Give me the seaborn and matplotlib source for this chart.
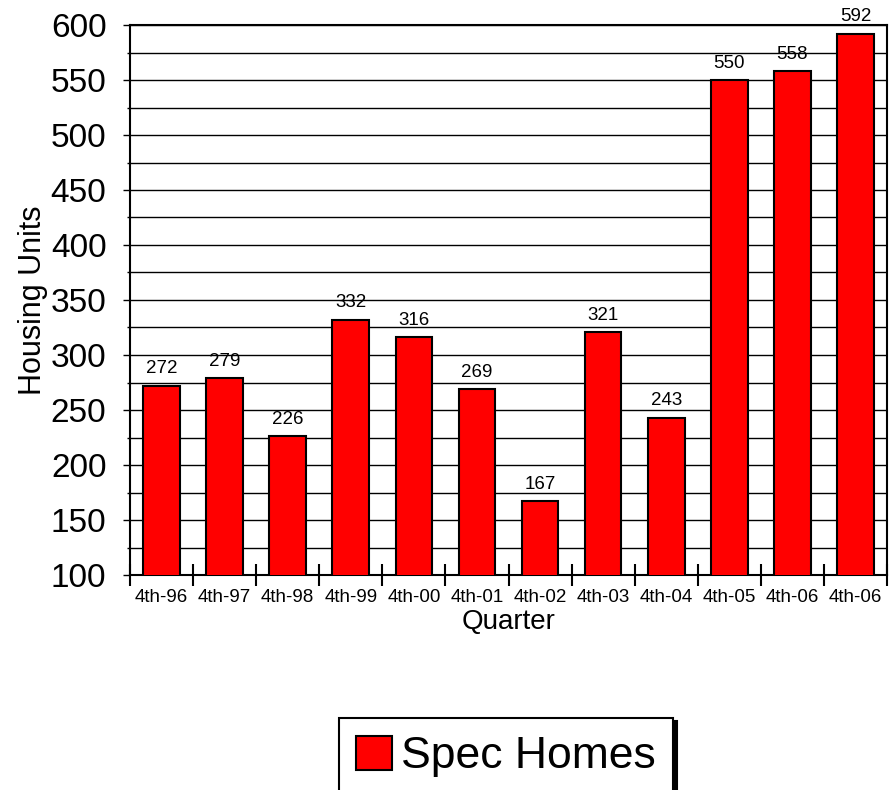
import matplotlib
matplotlib.use("Agg")
import matplotlib.pyplot as plt
import seaborn as sns
import pandas as pd
import numpy as np
from matplotlib.patches import Patch

quarters = ["4th-96", "4th-97", "4th-98", "4th-99", "4th-00", "4th-01",
            "4th-02", "4th-03", "4th-04", "4th-05", "4th-06", "4th-06"]
spec_homes = [272, 279, 226, 332, 316, 269, 167, 321, 243, 550, 558, 592]
series_name = "Spec Homes"

sns.set_style("white")
plt.rcParams['font.family'] = ['Liberation Sans', 'DejaVu Sans']
plt.rcParams['text.color'] = 'black'
plt.rcParams['axes.labelcolor'] = 'black'
plt.rcParams['xtick.color'] = 'black'
plt.rcParams['ytick.color'] = 'black'

df = pd.DataFrame({"pos": list(range(len(quarters))), "value": spec_homes})

fig = plt.figure(figsize=(8.9, 7.9), dpi=100)
ax = fig.add_axes([130/890, 1-575/790, (887-130)/890, (575-25)/790])

sns.barplot(data=df, x="pos", y="value", ax=ax, color="#FF0000",
            width=0.58, edgecolor="black", linewidth=1.5, saturation=1,
            zorder=3)

ax.set_ylim(100, 600)
ax.set_xlim(-0.5, len(quarters) - 0.5)
ax.set_yticks(np.arange(100, 601, 50))
ax.set_yticks(np.arange(125, 600, 50), minor=True)
ax.grid(True, axis="y", which="both", color="black", linewidth=1.0, zorder=0)
ax.set_axisbelow(True)

ax.tick_params(axis="y", which="major", direction="out", length=5, width=1,
               labelsize=24, pad=12, left=True, colors="black")
ax.tick_params(axis="y", which="minor", direction="out", length=2, width=1,
               left=True)

# x ticks: major at boundaries (inout), labels at centers via minor ticks
ax.set_xticks(np.arange(-0.5, len(quarters), 1.0))
ax.set_xticklabels([])
ax.set_xticks(np.arange(len(quarters)), minor=True)
ax.set_xticklabels(quarters, minor=True)
ax.tick_params(axis="x", which="major", direction="inout", length=16, width=1.5,
               bottom=True, colors="black")
ax.tick_params(axis="x", which="minor", length=0, labelsize=13.5, pad=10,
               colors="black")

for s in ax.spines.values():
    s.set_color("black")
    s.set_linewidth(1.5)

ax.set_xlabel("Quarter", fontsize=20, labelpad=2, color="black")
ax.set_ylabel("Housing Units", fontsize=22, labelpad=2, color="black")

for p, v in zip(ax.patches, spec_homes):
    ax.annotate(f"{v}", (p.get_x() + p.get_width() / 2, v),
                xytext=(0, 6), textcoords="offset points",
                ha="center", va="bottom", fontsize=13.5, zorder=5,
                color="black")

handle = Patch(facecolor="#FF0000", edgecolor="black", linewidth=1.5)
leg = fig.legend([handle], [series_name], loc="upper center",
                 bbox_to_anchor=(506/890, 1 - 718/790), fontsize=32,
                 frameon=True, fancybox=False,
                 shadow={"color": "black", "alpha": 1, "ox": 2.5, "oy": -2.5},
                 handlelength=0.8, handleheight=0.8, handletextpad=0.2,
                 borderpad=0.4, borderaxespad=0)
leg.get_frame().set_edgecolor("black")
leg.get_frame().set_linewidth(1.5)
for t in leg.get_texts():
    t.set_color("black")

fig.savefig("out.png", dpi=100)
